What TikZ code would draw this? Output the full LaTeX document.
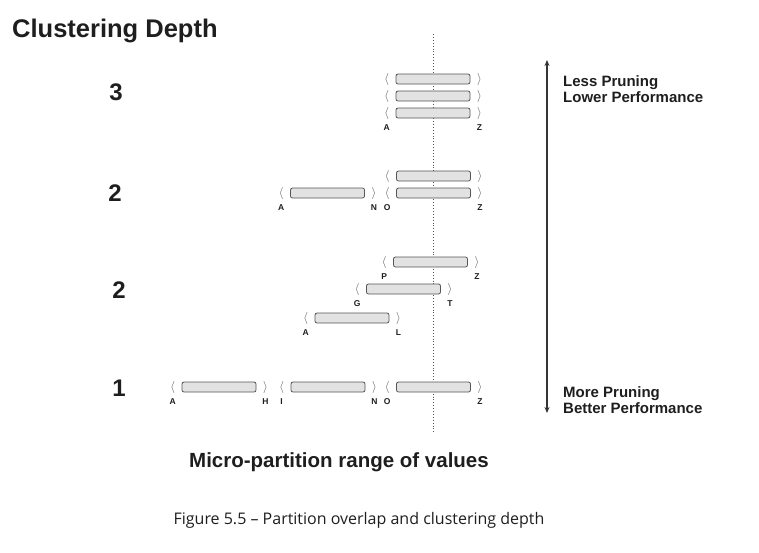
\documentclass[tikz,border=0pt]{standalone}
\usepackage{fontspec}
\setmainfont{Liberation Sans}
\newfontfamily\capfont{Open Sans}
\usetikzlibrary{arrows.meta}
\definecolor{cgris}{RGB}{85,85,85}
\definecolor{cfond}{RGB}{226,226,226}
\definecolor{ctexte}{RGB}{30,30,30}

\begin{document}
\begin{tikzpicture}[x=1pt, y=-1pt, >=Stealth,
  bar/.style={draw=cgris, fill=cfond, line width=0.8pt, rounded corners=2pt,
    minimum width=74pt, minimum height=10pt, inner sep=0pt},
  brk/.style={text=cgris, font=\fontsize{13}{13}\selectfont, inner sep=0pt},
  lab/.style={font=\bfseries\fontsize{8.5}{8.5}\selectfont, text=ctexte, inner sep=0pt},
  depth/.style={font=\bfseries\fontsize{24}{24}\selectfont, text=ctexte, inner sep=0pt},
  note/.style={font=\bfseries\fontsize{15}{16.5}\selectfont, text=ctexte, align=left,
    anchor=west, inner sep=0pt}]
\useasboundingbox (0,0) rectangle (759,552);
\node[anchor=base west, font=\bfseries\fontsize{25.5}{25.5}\selectfont, text=ctexte,
  inner sep=0pt] (title) at (12,37) {Clustering Depth};
\foreach \n/\d/\x/\y in {d3/3/116/92, d2a/2/115/193, d2b/2/119/290, d1/1/119/388}
  {\node[depth] (\n) at (\x,\y) {\d};}
\coordinate (top) at (433,34); \coordinate (bot) at (433,432);
\draw[dotted, cgris, line width=0.9pt] (top) -- (bot);
\foreach \n/\x/\y in {r3a/433/79, r3b/433/96, r3c/433/113, r2a/433.5/176, r2b/327.5/193,
  r2c/433.5/193, p2a/430.5/262, p2b/403.5/289, p2c/352/318, r1a/219/387, r1b/328/387,
  r1c/433.5/387}
  {\node[bar] (\n) at (\x,\y) {};
   \node[brk] (\n-l) at ([xshift=-9pt]\n.west) {\(\langle\)};
   \node[brk] (\n-r) at ([xshift=9pt]\n.east) {\(\rangle\)};}
\foreach \b/\t in {r3c-l/A, r3c-r/Z, r2b-l/A, r2b-r/N, r2c-l/O, r2c-r/Z, p2a-l/P, p2a-r/Z,
  p2b-l/G, p2b-r/T, p2c-l/A, p2c-r/L, r1a-l/A, r1a-r/H, r1b-l/I, r1b-r/N, r1c-l/O, r1c-r/Z}
  {\node[lab] (lab-\b) at ([yshift=-15pt]\b) {\t};}
\coordinate (hi) at (547,60); \coordinate (lo) at (547,413);
\draw[{Stealth[length=6pt,width=5pt]}-{Stealth[length=6pt,width=5pt]}, line width=1.2pt,
  ctexte!90] (lo) -- (hi);
\node[note] (less) at (563,89) {Less Pruning\\Lower Performance};
\node[note] (more) at (563,400) {More Pruning\\Better Performance};
\node[anchor=base, font=\bfseries\fontsize{20.5}{20.5}\selectfont, text=ctexte, inner sep=0pt]
  (axis) at (339,467) {Micro-partition range of values};
\node[anchor=base, font=\capfont\fontsize{16}{16}\selectfont, text=ctexte, inner sep=0pt]
  (caption) at (359,524) {Figure 5.5 – Partition overlap and clustering depth};
\end{tikzpicture}
\end{document}
